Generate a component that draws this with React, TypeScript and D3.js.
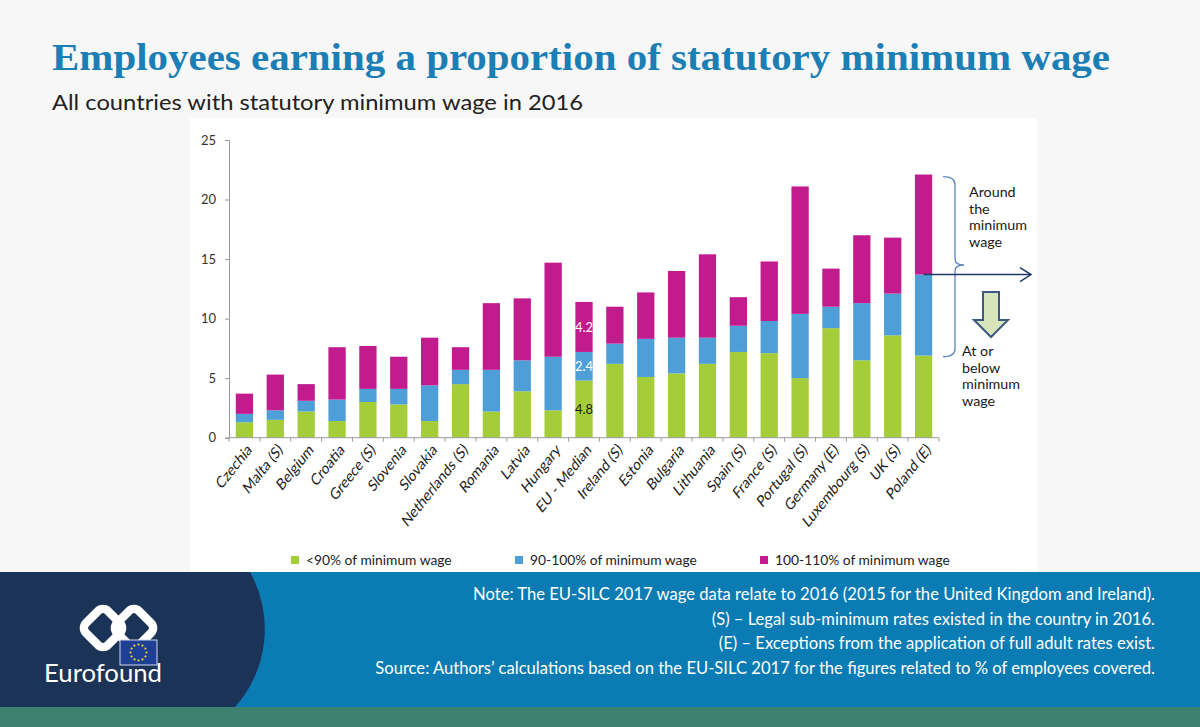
import { useEffect, useRef } from 'react';
import * as d3 from 'd3';

const countries = [
  'Czechia', 'Malta (S)', 'Belgium', 'Croatia', 'Greece (S)', 'Slovenia', 'Slovakia',
  'Netherlands (S)', 'Romania', 'Latvia', 'Hungary', 'EU - Median', 'Ireland (S)',
  'Estonia', 'Bulgaria', 'Lithuania', 'Spain (S)', 'France (S)', 'Portugal (S)',
  'Germany (E)', 'Luxembourg (S)', 'UK (S)', 'Poland (E)'
];
// share of employees (%) per band
const below90 = [1.3, 1.5, 2.2, 1.4, 3.0, 2.8, 1.4, 4.5, 2.2, 3.9, 2.3, 4.8, 6.2, 5.1, 5.4, 6.2, 7.2, 7.1, 5.0, 9.2, 6.5, 8.6, 6.9];
const band90to100 = [0.7, 0.8, 0.9, 1.8, 1.1, 1.3, 3.0, 1.2, 3.5, 2.6, 4.5, 2.4, 1.7, 3.2, 3.0, 2.2, 2.2, 2.7, 5.4, 1.8, 4.8, 3.5, 6.8];
const band100to110 = [1.7, 3.0, 1.4, 4.4, 3.6, 2.7, 4.0, 1.9, 5.6, 5.2, 7.9, 4.2, 3.1, 3.9, 5.6, 7.0, 2.4, 5.0, 10.7, 3.2, 5.7, 4.7, 8.4];
const yTicks = [0, 5, 10, 15, 20, 25];
const seriesKeys = ['below90', 'band90to100', 'band100to110'];
const seriesLabels = ['<90% of minimum wage', '90-100% of minimum wage', '100-110% of minimum wage'];
const seriesColors = ['#a5cd39', '#4e9fd7', '#c11b8d'];
const medianCountry = 'EU - Median';
const noteAbove = ['Around', 'the', 'minimum', 'wage'];
const noteBelow = ['At or', 'below', 'minimum', 'wage'];
const noteLines = [
  'Note: The EU-SILC 2017 wage data relate to 2016 (2015 for the United Kingdom and Ireland).',
  '(S) \u2013 Legal sub-minimum rates existed in the country in 2016.',
  '(E) \u2013 Exceptions from the application of full adult rates exist.',
  'Source: Authors\u2019 calculations based on the EU-SILC 2017 for the figures related to % of employees covered.'
];

const W = 1200;
const H = 727;
const SANS = 'Lato, "Open Sans", sans-serif';

export default function App() {
  const svgRef = useRef<SVGSVGElement>(null);

  useEffect(() => {
    document.body.style.margin = '0';
    document.body.style.overflow = 'hidden';
    if (!svgRef.current) return;

    const svg = d3.select(svgRef.current);
    svg.selectAll('*').remove();

    // page background
    svg.append('rect').attr('width', W).attr('height', H).attr('fill', '#f7f7f7');

    // title + subtitle
    svg.append('text')
      .attr('x', 52).attr('y', 70)
      .attr('fill', '#1b7fb5')
      .style('font-family', '"Liberation Serif", "DejaVu Serif", serif')
      .style('font-weight', 'bold')
      .style('font-size', '37px')
      .attr('textLength', 1058)
      .attr('lengthAdjust', 'spacingAndGlyphs')
      .text('Employees earning a proportion of statutory minimum wage');

    svg.append('text')
      .attr('x', 52).attr('y', 110)
      .attr('fill', '#222')
      .style('font-family', SANS)
      .style('font-size', '22px')
      .attr('textLength', 531)
      .attr('lengthAdjust', 'spacingAndGlyphs')
      .text('All countries with statutory minimum wage in 2016');

    // chart panel
    svg.append('rect')
      .attr('x', 190).attr('y', 118)
      .attr('width', 847).attr('height', 454)
      .attr('fill', '#ffffff');

    const data = countries.map((c, i) => ({
      country: c,
      below90: below90[i],
      band90to100: band90to100[i],
      band100to110: band100to110[i]
    }));

    const x = d3.scaleBand<string>()
      .domain(countries)
      .range([229, 939])
      .paddingInner(0.44)
      .paddingOuter(0.22);

    const y = d3.scaleLinear().domain([0, 25]).range([437.7, 140]);

    const stacked = d3.stack<any>().keys(seriesKeys)(data);

    const g = svg.append('g');

    g.selectAll('g.series')
      .data(stacked)
      .join('g')
      .attr('class', 'series')
      .attr('fill', (_d, i) => seriesColors[i])
      .selectAll('rect')
      .data(d => d)
      .join('rect')
      .attr('x', d => x(d.data.country)!)
      .attr('width', x.bandwidth())
      .attr('y', d => y(d[1]))
      .attr('height', d => y(d[0]) - y(d[1]));

    // value labels on the EU median bar
    const mi = countries.indexOf(medianCountry);
    stacked.forEach((s, i) => {
      const seg = s[mi];
      g.append('text')
        .attr('x', x(medianCountry)! + x.bandwidth() / 2)
        .attr('y', y((seg[0] + seg[1]) / 2))
        .attr('dy', '0.35em')
        .attr('text-anchor', 'middle')
        .attr('fill', i === 0 ? '#1a1a1a' : '#ffffff')
        .style('font-family', SANS)
        .style('font-size', '13px')
        .text(d3.format('.1f')(seg[1] - seg[0]));
    });

    // y axis
    const yAxis = g.append('g').attr('transform', 'translate(229,0)')
      .call(d3.axisLeft(y).tickValues(yTicks).tickSize(4).tickPadding(9));
    yAxis.select('.domain').attr('stroke', '#9a9a9a');
    yAxis.selectAll('line').attr('stroke', '#9a9a9a');
    yAxis.selectAll('text')
      .attr('fill', '#333')
      .style('font-family', SANS)
      .style('font-size', '13px');

    // x axis with ticks between categories
    const xAxisY = y(0);
    g.append('line')
      .attr('x1', 229).attr('x2', 939)
      .attr('y1', xAxisY).attr('y2', xAxisY)
      .attr('stroke', '#9a9a9a');
    const boundaries = d3.range(countries.length + 1).map(i => 229 + i * x.step() - (i === 0 ? 0 : 0));
    g.selectAll('line.xtick')
      .data(boundaries)
      .join('line')
      .attr('class', 'xtick')
      .attr('x1', d => d).attr('x2', d => d)
      .attr('y1', xAxisY).attr('y2', xAxisY + 4)
      .attr('stroke', '#9a9a9a');

    // the source chart is stretched vertically, so the 45° labels lean steeper
    g.selectAll('text.xlabel')
      .data(countries)
      .join('text')
      .attr('class', 'xlabel')
      .attr('text-anchor', 'end')
      .attr('transform', d => `translate(${x(d)! + x.bandwidth() / 2 + 5},${xAxisY + 9}) scale(1,1.25) rotate(-45)`)
      .attr('dy', '0.35em')
      .attr('fill', '#222')
      .style('font-family', SANS)
      .style('font-size', '13px')
      .text(d => d);

    // legend
    const legendX = [291, 515, 760];
    seriesLabels.forEach((label, i) => {
      g.append('rect')
        .attr('x', legendX[i]).attr('y', 556)
        .attr('width', 8).attr('height', 8)
        .attr('fill', seriesColors[i]);
      g.append('text')
        .attr('x', legendX[i] + 15).attr('y', 560)
        .attr('dy', '0.35em')
        .attr('fill', '#222')
        .style('font-family', SANS)
        .style('font-size', '13.8px')
        .text(label);
    });

    // annotation: bracket, arrows and notes
    const pi = countries.length - 1;
    const poland = countries[pi];
    const thresholdY = y(below90[pi] + band90to100[pi]);
    const topY = y(below90[pi] + band90to100[pi] + band100to110[pi]);
    const bottomY = y(0) - 81;
    const bx = 955;
    const midY = 265;
    g.append('path')
      .attr('d', `M943,${topY + 2} Q${bx},${topY + 2} ${bx},${topY + 10} V${midY - 6} Q${bx},${midY} ${bx + 9},${midY} Q${bx},${midY} ${bx},${midY + 6} V${bottomY - 8} Q${bx},${bottomY} 943,${bottomY}`)
      .attr('fill', 'none')
      .attr('stroke', '#5b85bd')
      .attr('stroke-width', 1.3);

    const ax0 = x(poland)! + x.bandwidth() / 2;
    g.append('line')
      .attr('x1', ax0).attr('x2', 1031)
      .attr('y1', thresholdY).attr('y2', thresholdY)
      .attr('stroke', '#1f3864').attr('stroke-width', 1.5);
    g.append('path')
      .attr('d', `M1020,${thresholdY - 7} L1031,${thresholdY} L1020,${thresholdY + 7}`)
      .attr('fill', 'none')
      .attr('stroke', '#1f3864').attr('stroke-width', 1.5);

    g.append('path')
      .attr('d', 'M983,292 H999 V320 H1008 L991,337 L974,320 H983 Z')
      .attr('fill', '#d8e4bc')
      .attr('stroke', '#3c5a80')
      .attr('stroke-width', 2)
      .attr('stroke-linejoin', 'miter');

    noteAbove.forEach((t, i) => {
      g.append('text')
        .attr('x', 969).attr('y', 197 + i * 16.5)
        .attr('fill', '#1a1a1a')
        .style('font-family', SANS)
        .style('font-size', '14.3px')
        .text(t);
    });
    noteBelow.forEach((t, i) => {
      g.append('text')
        .attr('x', 962).attr('y', 356 + i * 16.5)
        .attr('fill', '#1a1a1a')
        .style('font-family', SANS)
        .style('font-size', '14.3px')
        .text(t);
    });

    // footer
    svg.append('rect').attr('x', 0).attr('y', 572).attr('width', W).attr('height', 135).attr('fill', '#0a7cb3');
    svg.append('rect').attr('x', 0).attr('y', 707).attr('width', W).attr('height', 20).attr('fill', '#3d8270');
    svg.append('path')
      .attr('d', 'M0,572 H250 A117,117 0 0 1 235,707 H0 Z')
      .attr('fill', '#1c3358');

    noteLines.forEach((t, i) => {
      svg.append('text')
        .attr('x', 1155).attr('y', 600 + i * 24.5)
        .attr('text-anchor', 'end')
        .attr('fill', '#ffffff')
        .style('font-family', SANS)
        .style('font-size', '16.6px')
        .text(t);
    });

    // Eurofound logo
    const logo = svg.append('g');
    [[103, 628], [134, 628]].forEach(([cx, cy]) => {
      logo.append('rect')
        .attr('x', -15.5).attr('y', -15.5)
        .attr('width', 31).attr('height', 31)
        .attr('rx', 7)
        .attr('transform', `translate(${cx},${cy}) rotate(45)`)
        .attr('fill', 'none')
        .attr('stroke', '#ffffff')
        .attr('stroke-width', 8.5);
    });
    logo.append('rect')
      .attr('x', 120).attr('y', 640).attr('width', 37).attr('height', 25)
      .attr('fill', '#1f3f96').attr('stroke', '#d0d8ee').attr('stroke-width', 1);
    d3.range(12).forEach(k => {
      const a = (k / 12) * 2 * Math.PI;
      logo.append('circle')
        .attr('cx', 138.5 + 8 * Math.cos(a))
        .attr('cy', 652.5 + 8 * Math.sin(a))
        .attr('r', 1.1)
        .attr('fill', '#f5d32a');
    });
    logo.append('text')
      .attr('x', 44).attr('y', 682)
      .attr('fill', '#ffffff')
      .style('font-family', SANS)
      .style('font-size', '25px')
      .attr('textLength', 118)
      .attr('lengthAdjust', 'spacingAndGlyphs')
      .text('Eurofound');
  }, []);

  return <svg ref={svgRef} width={W} height={H} style={{ display: 'block' }} />;
}
